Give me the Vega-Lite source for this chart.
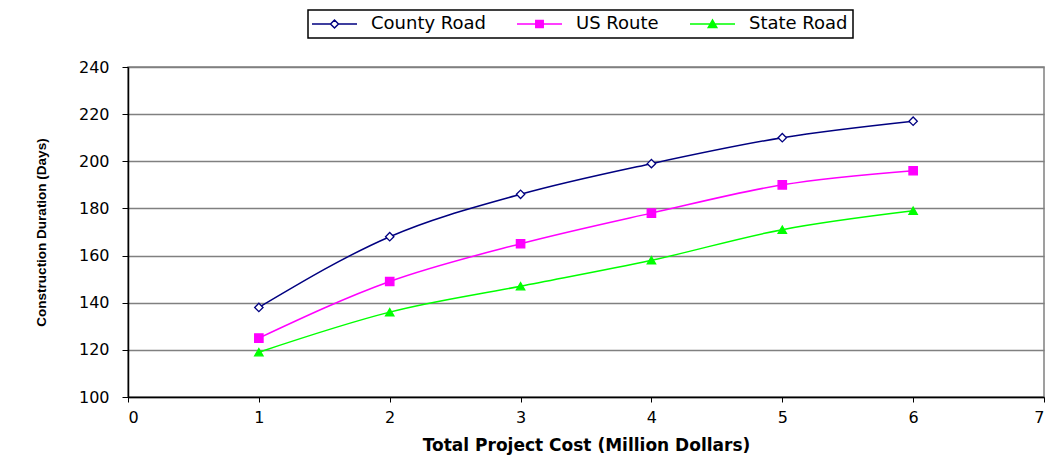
{
  "$schema": "https://vega.github.io/schema/vega-lite/v6.json",
  "width": 916,
  "height": 330,
  "autosize": "none",
  "padding": {"left": 128, "top": 67, "right": 18, "bottom": 78},
  "background": "white",
  "config": {
    "view": {"stroke": "#808080", "strokeWidth": 1.5},
    "font": "DejaVu Sans"
  },
  "data": {
    "values": [
      {"cost": 1, "days": 138, "road": "County Road"},
      {"cost": 2, "days": 168, "road": "County Road"},
      {"cost": 3, "days": 186, "road": "County Road"},
      {"cost": 4, "days": 199, "road": "County Road"},
      {"cost": 5, "days": 210, "road": "County Road"},
      {"cost": 6, "days": 217, "road": "County Road"},
      {"cost": 1, "days": 125, "road": "US Route"},
      {"cost": 2, "days": 149, "road": "US Route"},
      {"cost": 3, "days": 165, "road": "US Route"},
      {"cost": 4, "days": 178, "road": "US Route"},
      {"cost": 5, "days": 190, "road": "US Route"},
      {"cost": 6, "days": 196, "road": "US Route"},
      {"cost": 1, "days": 119, "road": "State Road"},
      {"cost": 2, "days": 136, "road": "State Road"},
      {"cost": 3, "days": 147, "road": "State Road"},
      {"cost": 4, "days": 158, "road": "State Road"},
      {"cost": 5, "days": 171, "road": "State Road"},
      {"cost": 6, "days": 179, "road": "State Road"}
    ]
  },
  "encoding": {
    "x": {
      "field": "cost", "type": "quantitative",
      "scale": {"domain": [0, 7], "nice": false},
      "axis": {
        "title": "Total Project Cost (Million Dollars)",
        "values": [0, 1, 2, 3, 4, 5, 6, 7],
        "grid": false,
        "domainColor": "black", "domainWidth": 1.5,
        "tickColor": "black", "tickSize": 5, "tickWidth": 1,
        "labelFont": "DejaVu Sans", "labelFontSize": 16, "labelColor": "black", "labelPadding": 7,
        "titleFont": "DejaVu Sans", "titleFontSize": 17, "titleFontWeight": "bold", "titleColor": "black", "titlePadding": 12
      }
    },
    "y": {
      "field": "days", "type": "quantitative",
      "scale": {"domain": [100, 240], "nice": false, "zero": false},
      "axis": {
        "title": "Construction Duration (Days)",
        "values": [100, 120, 140, 160, 180, 200, 220, 240],
        "grid": true, "gridColor": "#808080", "gridWidth": 1.5,
        "domainColor": "black", "domainWidth": 1.5,
        "tickColor": "black", "tickSize": 6, "tickWidth": 1,
        "labelFont": "DejaVu Sans", "labelFontSize": 16, "labelColor": "black", "labelPadding": 13,
        "titleFont": "Liberation Sans", "titleFontSize": 13.5, "titleFontWeight": "bold", "titleColor": "black", "titlePadding": 30
      }
    }
  },
  "layer": [
    {
      "mark": {"type": "line", "interpolate": "monotone", "strokeWidth": 1.5},
      "encoding": {
        "color": {
          "field": "road", "type": "nominal",
          "scale": {"domain": ["County Road", "US Route", "State Road"], "range": ["#000080", "#FF00FF", "#00FF00"]},
          "legend": {
            "title": null,
            "orient": "none",
            "legendX": 180,
            "legendY": -57,
            "direction": "horizontal",
            "columns": 3,
            "padding": 5,
            "strokeColor": "black",
            "fillColor": "white",
            "labelFont": "DejaVu Sans",
            "labelFontSize": 18,
            "labelColor": "black",
            "labelOffset": 40,
            "columnPadding": 28,
            "symbolSize": 64,
            "encode": {
              "legend": {"update": {"strokeWidth": {"value": 1.5}}},
              "symbols": {
                "update": {
                  "shape": {"signal": "datum.value === 'County Road' ? 'M-2.5,0H2.125M4.125,0H8.75M2.125,0L3.125,-1L4.125,0L3.125,1Z' : datum.value === 'US Route' ? 'M-2.5,0H8.75M2.2,-0.85H4.05V0.85H2.2Z' : 'M-2.5,0H8.75M2.05,0.9L3.125,-1L4.2,0.9Z'"},
                  "fill": {"signal": "datum.value === 'County Road' ? 'white' : datum.value === 'US Route' ? '#FF00FF' : '#00FF00'"},
                  "stroke": {"signal": "datum.value === 'County Road' ? '#000080' : datum.value === 'US Route' ? '#FF00FF' : '#00FF00'"},
                  "strokeWidth": {"value": 1.5},
                  "opacity": {"value": 1},
                  "fillOpacity": {"value": 1}
                }
              }
            }
          }
        }
      }
    },
    {
      "mark": {"type": "point", "opacity": 1, "strokeWidth": 1.3, "size": 70},
      "encoding": {
        "shape": {
          "field": "road", "type": "nominal",
          "scale": {"domain": ["County Road", "US Route", "State Road"], "range": ["diamond", "square", "triangle-up"]},
          "legend": null
        },
        "fill": {
          "field": "road", "type": "nominal",
          "scale": {"domain": ["County Road", "US Route", "State Road"], "range": ["white", "#FF00FF", "#00FF00"]},
          "legend": null
        },
        "stroke": {
          "field": "road", "type": "nominal",
          "scale": {"domain": ["County Road", "US Route", "State Road"], "range": ["#000080", "#FF00FF", "#00FF00"]},
          "legend": null
        }
      }
    }
  ],
  "resolve": {
    "scale": {"shape": "independent", "fill": "independent", "stroke": "independent"},
    "legend": {"shape": "independent", "fill": "independent", "stroke": "independent"}
  }
}
